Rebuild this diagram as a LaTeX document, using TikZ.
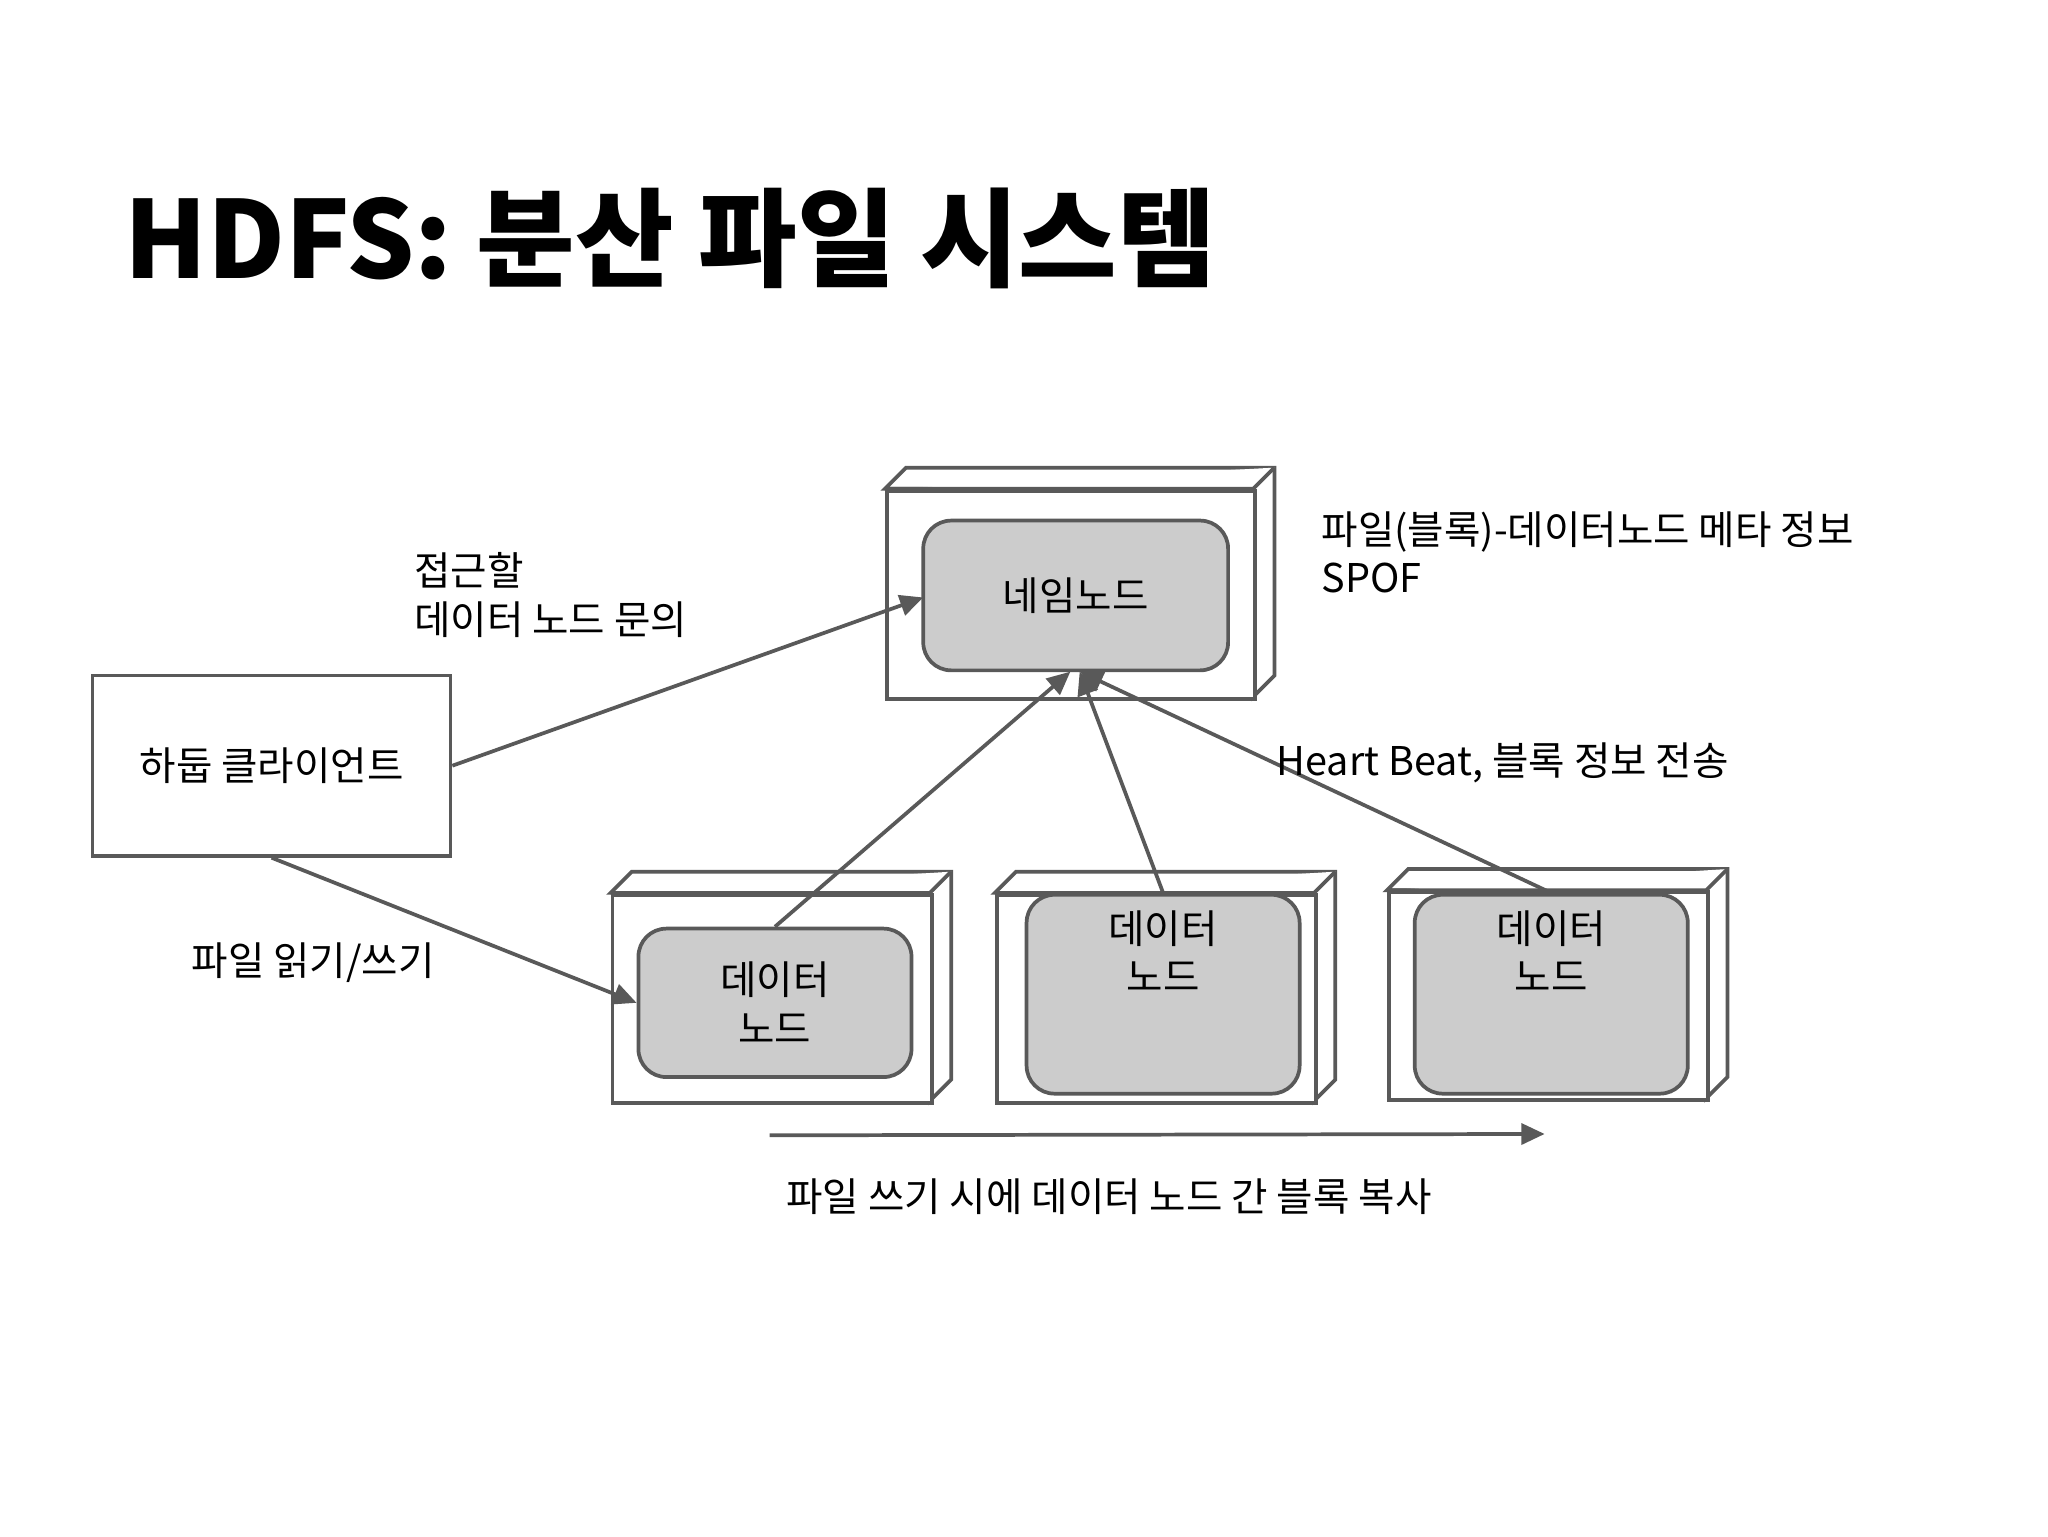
\documentclass[tikz,border=0pt]{standalone}
\usepackage{fontspec}
\setmainfont{Liberation Sans}
\newfontfamily\kr{Noto Sans CJK KR}
\usetikzlibrary{arrows.meta,calc}
\definecolor{ln}{HTML}{595959}
\definecolor{gr}{HTML}{CCCCCC}
\begin{document}
\begin{tikzpicture}[x=0.01cm,y=-0.01cm,
  box/.style={draw=ln,line width=0.8pt,fill=white},
  inner/.style={draw=ln,line width=0.8pt,fill=gr,rounded corners=6pt},
  arr/.style={draw=ln,line width=0.8pt,-{Triangle[length=5pt,width=4.5pt]}},
  txt/.style={font=\kr\fontsize{8.5}{10.5}\selectfont,inner sep=0pt,anchor=west,align=left}]
\useasboundingbox (0,0) rectangle (1546,1160);
\newcommand\mycube[5]{%
  \draw[box] (#2,#3)--(#2+16,#3-16)--(#4+16,#3-16)--(#4+16,#5-16)--(#4,#5)--(#4,#3)--cycle;
  \draw[box] (#2,#3)--(#4,#3)--(#4+16,#3-16);
  \node[box,minimum width={(#4-#2)*0.01cm},minimum height={(#5-#3)*0.01cm},anchor=north west,inner sep=0pt] (#1) at (#2,#3) {};
}
\node[font=\kr\bfseries\fontsize{23}{26}\selectfont,anchor=west,inner sep=0pt] (title) at (93,180) {HDFS: 분산 파일 시스템};
\mycube{nnbox}{668}{369}{946}{526}
\node[inner,minimum width=2.30cm,minimum height=1.13cm,font=\kr\fontsize{8.5}{10.5}\selectfont] (nn) at (812,449.5) {네임노드};
\mycube{b1}{461}{674}{702}{831}
\mycube{b2}{751}{674}{992}{831}
\mycube{b3}{1047}{672}{1288}{829}
\node[inner,minimum width=2.06cm,minimum height=1.12cm,align=center,font=\kr\fontsize{8.5}{10.5}\selectfont] (d1) at (585,757) {데이터\\노드};
\node[inner,minimum width=2.06cm,minimum height=1.25cm,align=center,font=\kr\fontsize{8.5}{10.5}\selectfont] (d2) at (878,750.5) {데이터\\노드\\[8pt]};
\node[inner,minimum width=2.06cm,minimum height=1.25cm,align=center,font=\kr\fontsize{8.5}{10.5}\selectfont] (d3) at (1171,750.5) {데이터\\노드\\[8pt]};
\node[draw=ln,line width=0.8pt,minimum width=2.70cm,minimum height=1.36cm,font=\kr\fontsize{8.5}{10.5}\selectfont] (cl) at (205,578) {하둡 클라이언트};
\draw[arr] (cl.east) -- (697,451);
\draw[arr] (cl.south) -- (d1.west);
\draw[arr] (d1.north) -- (808,507);
\draw[arr] (d2.north) -- (815,507);
\draw[arr] (d3.north) -- (815,507);
\coordinate (hs) at (581,857); \coordinate (he) at (1166,856);
\draw[arr] (hs) -- (he);
\node[txt] (t1) at (312,449) {접근할\\데이터 노드 문의};
\node[txt] (t2) at (997,417) {파일(블록)-데이터노드 메타 정보\\SPOF};
\node[txt] (t3) at (963,576) {Heart Beat, 블록 정보 전송};
\node[txt] (t4) at (144,727) {파일 읽기/쓰기};
\node[txt] (t5) at (593,903) {파일 쓰기 시에 데이터 노드 간 블록 복사};
\end{tikzpicture}
\end{document}
